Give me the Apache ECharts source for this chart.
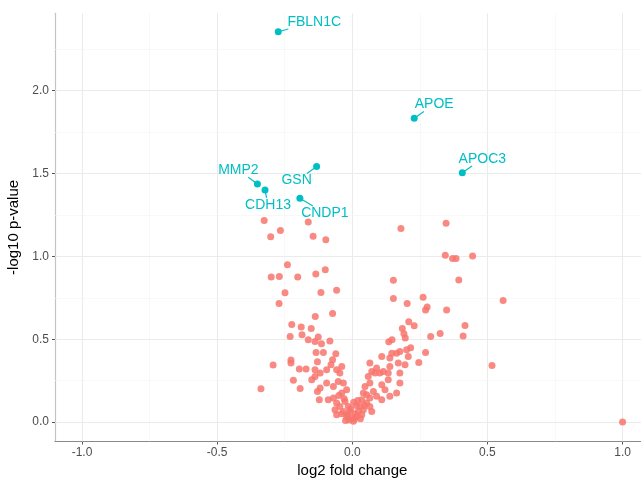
<!DOCTYPE html>
<html><head><meta charset="utf-8">
<script src="https://cdn.jsdelivr.net/npm/echarts@6/dist/echarts.min.js"></script>
<style>html,body{margin:0;padding:0;background:#fff}#c{width:641px;height:481px}</style>
</head><body><div id="c"></div>
<script>
// ---- data ----
const otherX = [
 -0.326,-0.163,-0.302,-0.266,-0.145,-0.098,-0.240,-0.300,-0.270,-0.202,-0.135,-0.100,
 -0.249,-0.116,-0.058,-0.271,-0.137,-0.073,-0.224,-0.189,-0.152,-0.230,-0.186,-0.163,
 -0.126,-0.138,-0.114,-0.083,-0.134,-0.107,-0.129,-0.061,-0.073,-0.079,-0.293,-0.227,
 -0.227,-0.196,-0.171,-0.138,-0.218,-0.193,-0.338,-0.150,-0.138,-0.129,-0.122,
 -0.119,-0.095,-0.058,-0.046,-0.039,-0.095,-0.119,-0.070,-0.052,-0.033,-0.021,-0.039,
 -0.089,-0.070,-0.058,-0.046,-0.027,-0.015,-0.009,-0.021,-0.033,-0.002,0.004,-0.064,-0.058,
 0.180,0.347,0.344,0.371,0.384,0.445,0.152,0.394,0.152,0.203,0.262,0.271,0.277,0.349,
 0.558,0.209,0.229,0.185,0.191,0.196,0.417,0.290,0.325,0.410,0.216,0.271,0.246,0.517,
 0.135,0.147,
 0.016,0.022,0.028,0.035,0.041,0.053,0.047,0.065,0.059,0.072,0.065,0.090,0.084,0.102,
 0.115,0.133,0.139,0.109,0.139,0.146,0.164,0.176,0.201,0.170,0.176,0.195,0.207,0.053,
 0.065,0.072,0.041,0.035,0.139,0.121,0.109,0.133,0.176,0.164,0.078,0.090,0.109,0.065,
 -0.012,0.008,-0.018,0.010,-0.006,0.015,-0.030,0.020,-0.040,0.030,-0.025,0.045,-0.050,0.005,
 1.000
];
const otherY = [
 1.216,1.208,1.118,1.156,1.122,1.100,0.949,0.876,0.878,0.875,0.894,0.919,
 0.780,0.782,0.796,0.715,0.637,0.655,0.589,0.573,0.565,0.516,0.527,0.496,
 0.513,0.486,0.472,0.489,0.420,0.420,0.364,0.412,0.376,0.346,0.344,0.374,
 0.356,0.320,0.320,0.315,0.253,0.203,0.201,0.255,0.275,0.185,0.135,
 0.296,0.315,0.315,0.296,0.335,0.235,0.205,0.215,0.245,0.235,0.195,0.175,
 0.135,0.145,0.115,0.094,0.124,0.094,0.064,0.034,0.064,0.024,0.004,0.074,0.044,
 1.168,1.200,1.007,0.987,0.987,1.003,0.856,0.858,0.746,0.715,0.754,0.677,0.694,0.677,
 0.734,0.605,0.581,0.565,0.533,0.508,0.583,0.516,0.534,0.520,0.448,0.420,0.360,0.341,
 0.484,0.496,
 0.034,0.064,0.094,0.135,0.175,0.165,0.215,0.235,0.275,0.305,0.356,0.326,0.296,0.296,
 0.305,0.296,0.335,0.396,0.386,0.416,0.416,0.426,0.436,0.356,0.296,0.346,0.396,0.115,
 0.094,0.064,0.074,0.044,0.155,0.195,0.225,0.255,0.235,0.175,0.185,0.155,0.135,0.145,
 0.012,0.018,0.045,0.050,0.080,0.100,0.140,0.130,0.050,0.020,0.010,0.100,0.160,0.120,
 0.000
];
const geneNames = ["FBLN1C","APOE","APOC3","MMP2","CDH13","GSN","CNDP1"];
const geneX = [-0.274, 0.229, 0.407, -0.351, -0.323, -0.132, -0.194];
const geneY = [2.356, 1.834, 1.505, 1.437, 1.401, 1.542, 1.351];
const xTicks = [-1.0, -0.5, 0.0, 0.5, 1.0];
const yTicks = [0.0, 0.5, 1.0, 1.5, 2.0];
const xMinor = [-0.75, -0.25, 0.25, 0.75];
const yMinor = [0.25, 0.75, 1.25, 1.75, 2.25];

// ---- layout config (label displacement in px, like ggrepel) ----
const labelShift = {FBLN1C:[36,-10], APOE:[20,-14], APOC3:[20,-14], MMP2:[-19,-14],
                    CDH13:[3,15], GSN:[-20,14], CNDP1:[25,15]};

const FONT = 'Liberation Sans, Arial, Helvetica, sans-serif';
const LABEL_SIZE = 14;
const RED = '#F8766D', TEAL = '#00BFC4';
const major = {color:'#EBEBEB', width:1.1, type:'solid'};
const minor = {color:'#F3F3F3', width:0.6, type:'solid'};
const Y_MIN = -0.1175, Y_MAX = 2.4675;

const gridLines = [
  ...xTicks.map(v => ({xAxis:v, lineStyle:major})),
  ...xMinor.map(v => ({xAxis:v, lineStyle:minor})),
  ...yTicks.map(v => ({yAxis:v, lineStyle:major})),
  ...yMinor.map(v => ({yAxis:v, lineStyle:minor})),
  {yAxis:Y_MAX, lineStyle:major}
];

const measureCtx = document.createElement('canvas').getContext('2d');
measureCtx.font = LABEL_SIZE + 'px ' + FONT;
function textWidth(t){ return measureCtx.measureText(t).width; }

// ggrepel-like label: text box displaced from the point, segment from point to box edge
function renderLabel(params, api){
  const p = api.coord([api.value(0), api.value(1)]);
  const name = geneNames[params.dataIndex];
  const s = labelShift[name];
  const c = [p[0] + s[0], p[1] + s[1]];
  const hw = textWidth(name) / 2 + 1, hh = 7.2;
  const dx = p[0] - c[0], dy = p[1] - c[1];
  const t = Math.min(dx !== 0 ? hw / Math.abs(dx) : Infinity, dy !== 0 ? hh / Math.abs(dy) : Infinity);
  const children = [];
  if (t < 1) {
    children.push({type:'line', shape:{x1:p[0], y1:p[1], x2:c[0] + dx * t, y2:c[1] + dy * t},
                   style:{stroke:TEAL, lineWidth:1.2}});
  }
  children.push({type:'text', style:{text:name, x:c[0], y:c[1], align:'center', verticalAlign:'middle',
                 fill:TEAL, font: LABEL_SIZE + 'px ' + FONT}});
  return {type:'group', children};
}

const chart = echarts.init(document.getElementById('c'), null, {renderer:'canvas'});
chart.setOption({
  animation:false,
  textStyle:{fontFamily:FONT},
  grid:{left:55, top:13.3, right:-8.6, bottom:39.5, outerBoundsMode:'none', containLabel:false},
  xAxis:{
    type:'value', min:-1.1, max:1.1,
    name:'log2 fold change', nameLocation:'middle', nameGap:17,
    nameTextStyle:{color:'#000', fontSize:15, fontFamily:FONT},
    axisLine:{show:true, onZero:false, lineStyle:{color:'#8a8a8a', width:1.2}},
    axisTick:{show:true, customValues:xTicks, length:3, lineStyle:{color:'#555', width:1}},
    axisLabel:{customValues:xTicks, formatter:v=>v.toFixed(1), color:'#4D4D4D', fontSize:12, margin:5, fontFamily:FONT},
    splitLine:{show:false}
  },
  yAxis:{
    type:'value', min:Y_MIN, max:Y_MAX,
    name:'-log10 p-value', nameLocation:'middle', nameGap:23,
    nameTextStyle:{color:'#000', fontSize:15, fontFamily:FONT},
    axisLine:{show:true, onZero:false, lineStyle:{color:'#c4c4c4', width:1.2}},
    axisTick:{show:true, customValues:yTicks, length:3, lineStyle:{color:'#555', width:1}},
    axisLabel:{customValues:yTicks, formatter:v=>v.toFixed(1), color:'#4D4D4D', fontSize:12, margin:6, fontFamily:FONT},
    splitLine:{show:false}
  },
  series:[
    {type:'line', data:[], z:1, silent:true,
     markLine:{silent:true, z:1, symbol:['none','none'], label:{show:false}, animation:false, data:gridLines}},
    {type:'scatter', z:2, symbolSize:7,
     data: otherX.map((x,i)=>[x, otherY[i]]),
     itemStyle:{color:RED, opacity:0.85}},
    {type:'custom', z:3, silent:true, clip:false,
     data: geneX.map((x,i)=>[x, geneY[i]]),
     encode:{x:0, y:1},
     renderItem: renderLabel},
    {type:'scatter', z:4, symbolSize:7,
     data: geneX.map((x,i)=>[x, geneY[i]]),
     itemStyle:{color:TEAL, opacity:1}}
  ]
});
</script></body></html>
